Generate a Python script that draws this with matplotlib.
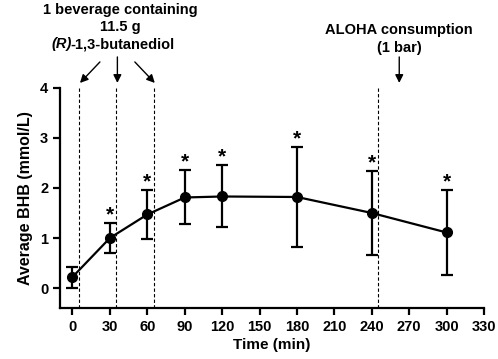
import matplotlib
matplotlib.use("Agg")
import matplotlib.pyplot as plt

# BHB over time (mean and error)
time_min = [0, 30, 60, 90, 120, 180, 240, 300]
bhb_mean = [0.22, 1.00, 1.47, 1.81, 1.83, 1.82, 1.50, 1.11]
bhb_err = [0.21, 0.29, 0.49, 0.54, 0.62, 0.99, 0.83, 0.85]
significant = [False, True, True, True, True, True, True, True]
dose_times = [5, 35, 65]
aloha_time = 245
xticks = list(range(0, 331, 30))
yticks = [0, 1, 2, 3, 4]

plt.rcParams['font.family'] = ['Liberation Sans', 'DejaVu Sans']
plt.rcParams['font.weight'] = 'bold'

fig = plt.figure(figsize=(4.98, 3.59), dpi=100)
ax = fig.add_axes([0.1205, 0.142, 0.8515, 0.613])

ax.errorbar(time_min, bhb_mean, yerr=bhb_err, color='black', lw=1.6,
            marker='o', markersize=7, capsize=4.5, capthick=1.6, elinewidth=1.6, zorder=3)

for t, m, e, s in zip(time_min, bhb_mean, bhb_err, significant):
    if s:
        ax.text(t, m + e - 0.02, '*', ha='center', va='bottom', fontsize=15)

for t in dose_times + [aloha_time]:
    ax.axvline(t, color='black', ls=(0, (3, 2)), lw=0.8, ymax=1.0)

ax.set_xlim(-10, 330)
ax.set_ylim(-0.4, 4)
ax.set_xticks(xticks)
ax.set_yticks(yticks)
ax.tick_params(labelsize=10.5, width=1.6, length=5)
for lab in ax.get_xticklabels() + ax.get_yticklabels():
    lab.set_fontweight('bold')
for side in ['top', 'right']:
    ax.spines[side].set_visible(False)
for side in ['left', 'bottom']:
    ax.spines[side].set_linewidth(1.6)
ax.set_xlabel('Time (min)', fontsize=11, fontweight='bold', labelpad=3)
ax.set_ylabel('Average BHB (mmol/L)', fontsize=11.5, fontweight='bold', labelpad=5)

# annotations above the plot
fs = 10.5
ax.text(38, 5.56, '1 beverage containing', ha='center', va='center', fontsize=fs, clip_on=False)
ax.text(38, 5.21, '11.5 g', ha='center', va='center', fontsize=fs, clip_on=False)
ax.text(-0.5, 4.87, '(R)', ha='right', va='center', fontsize=fs, fontstyle='italic', clip_on=False)
ax.text(-1.5, 4.87, '-1,3-butanediol', ha='left', va='center', fontsize=fs, clip_on=False)

arrow = dict(arrowstyle='-|>', color='black', lw=1.0, mutation_scale=12, shrinkA=0, shrinkB=0)
ax.annotate('', xy=(6, 4.1), xytext=(22, 4.52), arrowprops=arrow, annotation_clip=False)
ax.annotate('', xy=(36, 4.1), xytext=(36, 4.62), arrowprops=arrow, annotation_clip=False)
ax.annotate('', xy=(66, 4.1), xytext=(50, 4.52), arrowprops=arrow, annotation_clip=False)

ax.text(262, 5.16, 'ALOHA consumption', ha='center', va='center', fontsize=fs, clip_on=False)
ax.text(262, 4.8, '(1 bar)', ha='center', va='center', fontsize=fs, clip_on=False)
ax.annotate('', xy=(262, 4.1), xytext=(262, 4.62), arrowprops=arrow, annotation_clip=False)

fig.savefig('out.png', dpi=100)
